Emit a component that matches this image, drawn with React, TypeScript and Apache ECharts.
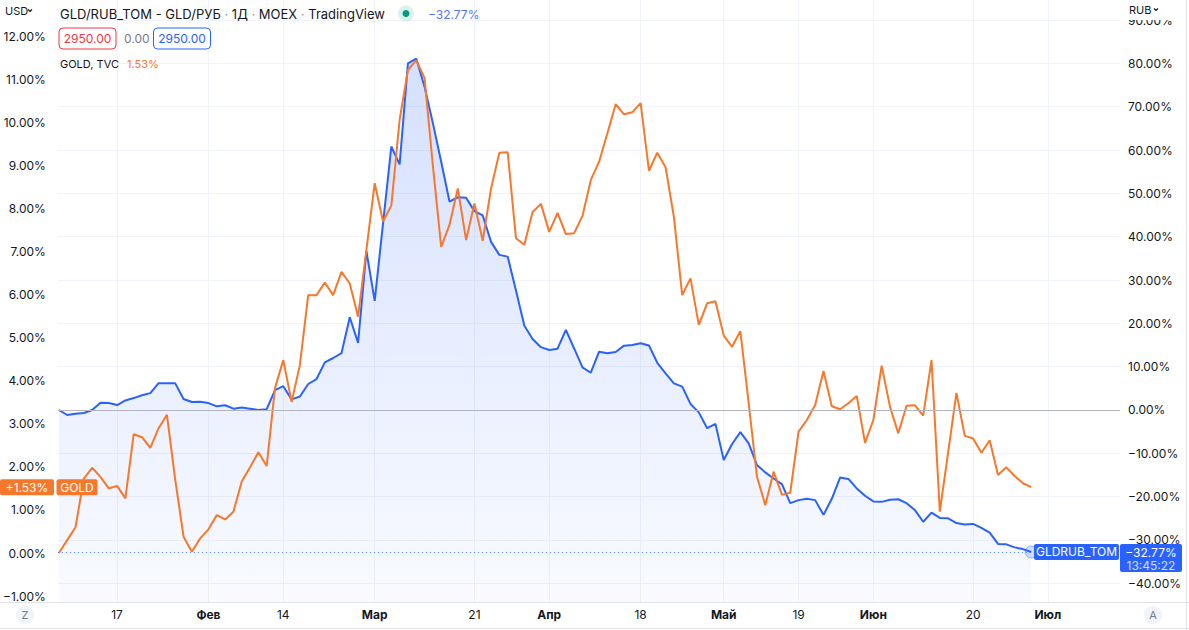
import React, { useEffect, useRef } from "react";
import * as echarts from "echarts";

// ---- data ----
const tickIdx = [7, 18, 27, 38, 50, 59, 70, 80, 89, 98, 110, 119];
const tickLabels = ["17", "Фев", "14", "Мар", "21", "Апр", "18", "Май", "19", "Июн", "20", "Июл"];
const leftTicks = [-1, 0, 1, 2, 3, 4, 5, 6, 7, 8, 9, 10, 11, 12];
const rightTicks = [-40, -30, -20, -10, 0, 10, 20, 30, 40, 50, 60, 70, 80, 90];

// GOLD, TVC (% change, left scale)
const goldPct = [
  0.0, 0.3, 0.6, 1.73, 1.98, 1.77, 1.5, 1.56, 1.27, 2.76,
  2.69, 2.44, 2.9, 3.21, 1.7, 0.38, 0.03, 0.34, 0.55, 0.88,
  0.78, 0.96, 1.66, 1.99, 2.34, 2.02, 3.83, 4.48, 3.51, 4.37,
  5.99, 5.99, 6.28, 5.99, 6.53, 6.26, 5.49, 7.04, 8.59, 7.7,
  8.07, 10.06, 11.22, 11.45, 11.03, 9.0, 7.11, 7.62, 8.47, 7.27,
  8.12, 7.25, 8.47, 9.3, 9.31, 7.31, 7.16, 7.92, 8.11, 7.46,
  7.9, 7.41, 7.43, 7.83, 8.66, 9.09, 9.75, 10.43, 10.19, 10.24,
  10.45, 8.88, 9.3, 8.96, 7.81, 5.99, 6.38, 5.3, 5.8, 5.85,
  5.05, 4.79, 5.15, 3.48, 1.77, 1.11, 1.89, 1.35, 1.4, 2.82,
  3.09, 3.44, 4.23, 3.41, 3.34, 3.48, 3.65, 2.56, 3.09, 4.35,
  3.4, 2.78, 3.42, 3.43, 3.19, 4.48, 0.96, 2.34, 3.72, 2.72,
  2.66, 2.33, 2.62, 1.81, 1.99, 1.79, 1.62, 1.53,
];

// GLD/RUB_TOM (% change, right scale)
const gldrubPct = [
  0.0, -1.15, -0.85, -0.7, 0.0, 1.7, 1.6, 1.15, 2.2, 2.75,
  3.4, 3.9, 6.2, 6.2, 6.15, 2.55, 1.85, 1.9, 1.6, 0.85,
  1.1, 0.3, 0.55, 0.3, 0.0, 0.2, 4.6, 5.5, 2.45, 3.1,
  6.0, 7.15, 11.0, 12.0, 13.1, 21.4, 15.5, 36.7, 25.2, 43.0,
  60.8, 56.7, 80.0, 81.1, 74.6, 66.2, 57.3, 48.1, 49.1, 49.0,
  45.9, 44.9, 38.8, 35.8, 35.4, 27.6, 19.5, 16.4, 14.5, 13.85,
  14.15, 18.5, 14.2, 9.85, 8.6, 13.45, 13.1, 13.4, 14.85, 15.0,
  15.4, 14.9, 10.9, 8.45, 6.15, 5.4, 1.4, -0.55, -4.2, -3.2,
  -11.55, -7.85, -5.1, -7.7, -12.7, -14.4, -15.8, -17.1, -21.5, -20.8,
  -20.5, -20.8, -24.2, -20.5, -15.6, -15.9, -18.1, -19.8, -21.1, -21.2,
  -20.7, -20.6, -21.5, -23.1, -25.8, -23.7, -24.9, -25.0, -26.1, -26.4,
  -26.3, -27.2, -28.3, -30.9, -31.0, -31.7, -32.1, -32.77,
];

const lastPrice = "2950.00";
const priceChange = "0.00";
const lastTime = "13:45:22";

// ---- styles ----
const FONT = 'Inter, "Noto Sans", "DejaVu Sans", sans-serif';
const BLUE = "#2962ff";
const ORANGE = "#f7782b";
const TEXT = "#131722";
const GRID = "#f0f3fa";
const BORDER = "#e0e3eb";

const fmt = (v: number, plus = false) =>
  (v < 0 ? "\u2212" : plus && v > 0 ? "+" : "") + Math.abs(v).toFixed(2) + "%";

export default function App() {
  const ref = useRef<HTMLDivElement>(null);

  useEffect(() => {
    if (!ref.current) return;
    const chart = echarts.init(ref.current, null, { renderer: "svg" });
    const lastI = gldrubPct.length - 1;
    const lastBlue = gldrubPct[lastI];
    const lastGold = goldPct[goldPct.length - 1];

    chart.setOption({
      animation: false,
      backgroundColor: "#ffffff",
      grid: { left: 55, right: 69, top: 0, bottom: 28 },
      xAxis: {
        type: "value",
        min: -0.12,
        max: 127.68,
        axisLine: { show: false, onZero: false },
        axisTick: { show: false, customValues: tickIdx },
        splitLine: { show: true, lineStyle: { color: GRID, width: 1 } },
        axisLabel: {
          customValues: tickIdx,
          margin: 6,
          color: TEXT,
          fontSize: 12,
          fontFamily: FONT,
          formatter: (v: number) => {
            const k = tickIdx.indexOf(Math.round(v));
            const s = k >= 0 ? tickLabels[k] : "";
            return /^\d+$/.test(s) ? s : "{b|" + s + "}";
          },
          rich: { b: { fontWeight: "bold", fontSize: 12, color: TEXT, fontFamily: FONT } },
        },
      },
      yAxis: [
        {
          type: "value",
          position: "left",
          min: -1.138,
          max: 12.846,
          axisLine: { show: false },
          axisTick: { show: false, customValues: leftTicks },
          splitLine: { show: false },
          axisLabel: {
            customValues: leftTicks,
            formatter: (v: number) => fmt(v),
            color: TEXT,
            fontSize: 12,
            fontFamily: FONT,
            margin: 12,
          },
        },
        {
          type: "value",
          position: "right",
          min: -44.31,
          max: 94.62,
          axisLine: { show: false },
          axisTick: { show: false, customValues: rightTicks },
          splitLine: { show: true, lineStyle: { color: GRID, width: 1 } },
          axisLabel: {
            customValues: rightTicks,
            formatter: (v: number) => fmt(v),
            color: TEXT,
            fontSize: 12,
            fontFamily: FONT,
            margin: 8,
          },
        },
      ],
      series: [
        {
          name: "GLDRUB_TOM",
          type: "line",
          xAxisIndex: 0,
          yAxisIndex: 1,
          data: gldrubPct.map((v, i) => [i, v]),
          symbol: "none",
          z: 2,
          lineStyle: { color: BLUE, width: 2 },
          areaStyle: {
            origin: "start",
            color: new echarts.graphic.LinearGradient(0, 0, 0, 1, [
              { offset: 0, color: "rgba(41,98,255,0.28)" },
              { offset: 1, color: "rgba(41,98,255,0.04)" },
            ]),
          },
          markLine: {
            silent: true,
            symbol: ["none", "none"],
            label: { show: false },
            data: [
              { yAxis: 0, lineStyle: { color: "#b2b5be", width: 1, type: "solid" } },
              { yAxis: lastBlue, lineStyle: { color: BLUE, width: 1, type: [1, 3], opacity: 0.8 } },
            ],
          },
          markPoint: {
            silent: true,
            data: [
              {
                coord: [lastI, lastBlue],
                symbol: "circle",
                symbolSize: 12,
                itemStyle: { color: "rgba(41,98,255,0.2)", borderColor: "rgba(41,98,255,0.45)", borderWidth: 1 },
                label: { show: false },
              },
            ],
          },
        },
        {
          name: "GOLD",
          type: "line",
          xAxisIndex: 0,
          yAxisIndex: 0,
          data: goldPct.map((v, i) => [i, v]),
          symbol: "none",
          z: 3,
          lineStyle: { color: ORANGE, width: 2 },
        },
      ],
    });

    const yGold = chart.convertToPixel({ yAxisIndex: 0 }, lastGold) as number;
    const yBlue = chart.convertToPixel({ yAxisIndex: 1 }, lastBlue) as number;

    const txt = (x: number, y: number, text: string, fill: string, size = 12, align = "left", weight = "normal") => ({
      type: "text",
      silent: true,
      style: { x, y, text, fill, fontSize: size, fontFamily: FONT, fontWeight: weight, align, verticalAlign: "middle" },
      z: 100,
    });
    const rect = (x: number, y: number, w: number, h: number, fill: string, r = 2, stroke?: string) => ({
      type: "rect",
      silent: true,
      shape: { x, y, width: w, height: h, r },
      style: stroke ? { fill, stroke, lineWidth: 1 } : { fill },
      z: 99,
    });

    chart.setOption({
      graphic: [
        // frame lines
        { type: "line", silent: true, shape: { x1: 0, y1: 602.5, x2: 1189, y2: 602.5 }, style: { stroke: BORDER, lineWidth: 1 }, z: 50 },
        { type: "line", silent: true, shape: { x1: 0, y1: 628.5, x2: 1189, y2: 628.5 }, style: { stroke: BORDER, lineWidth: 1 }, z: 50 },
        { type: "line", silent: true, shape: { x1: 1186.5, y1: 0, x2: 1186.5, y2: 630 }, style: { stroke: BORDER, lineWidth: 1 }, z: 50 },
        // currency headers
        rect(1121, 0, 65, 20, "#ffffff", 0),
        txt(5, 11, "USD", TEXT, 11),
        { type: "polyline", silent: true, shape: { points: [[28, 9.5], [30, 11.5], [32, 9.5]] }, style: { stroke: TEXT, lineWidth: 1.2, fill: "none" }, z: 100 },
        txt(1129, 10, "RUB", TEXT, 11),
        { type: "polyline", silent: true, shape: { points: [[1154, 8.5], [1156, 10.5], [1158, 8.5]] }, style: { stroke: TEXT, lineWidth: 1.2, fill: "none" }, z: 100 },
        // title
        {
          type: "text",
          silent: true,
          z: 100,
          style: {
            x: 60,
            y: 14,
            verticalAlign: "middle",
            text: "{a|GLD/RUB_TOM - GLD/РУБ}{d| · }{a|1Д}{d| · }{a|MOEX}{d| · }{a|TradingView}",
            rich: {
              a: { fill: TEXT, fontSize: 13, fontFamily: FONT },
              d: { fill: "#9598a1", fontSize: 13, fontFamily: FONT },
            },
          },
        },
        { type: "circle", silent: true, shape: { cx: 406, cy: 13.5, r: 8 }, style: { fill: "rgba(8,153,129,0.14)" }, z: 100 },
        { type: "circle", silent: true, shape: { cx: 406, cy: 13.5, r: 3.5 }, style: { fill: "#089981" }, z: 101 },
        txt(428, 14, fmt(lastBlue), "#5274f6", 12),
        // price boxes
        rect(59, 28, 57, 21, "#ffffff", 4, "#f23645"),
        txt(87.5, 38.5, lastPrice, "#f23645", 12, "center"),
        txt(124, 38.5, priceChange, "#787b86", 12),
        rect(153.5, 28, 57, 21, "#ffffff", 4, BLUE),
        txt(182, 38.5, lastPrice, BLUE, 12, "center"),
        // gold legend
        txt(60, 64, "GOLD, TVC", TEXT, 11),
        txt(127, 64, fmt(lastGold), ORANGE, 11),
        // gold last value labels
        rect(0, yGold - 8, 54, 16, ORANGE, 2),
        txt(27, yGold, fmt(lastGold, true), "#ffffff", 12, "center"),
        rect(56.5, yGold - 8, 41, 16, ORANGE, 2),
        txt(77, yGold, "GOLD", "#ffffff", 12, "center"),
        // blue last value labels
        rect(1034, yBlue - 8, 85, 16, BLUE, 2),
        txt(1076.5, yBlue, "GLDRUB_TOM", "#ffffff", 12, "center"),
        rect(1120, yBlue - 8, 62, 28, BLUE, 2),
        txt(1151, yBlue + 0.5, fmt(lastBlue), "#ffffff", 12, "center"),
        txt(1151, yBlue + 13.5, lastTime, "rgba(255,255,255,0.8)", 12, "center"),
        // bottom buttons
        { type: "circle", silent: true, shape: { cx: 25, cy: 615, r: 9 }, style: { fill: "#f0f3fa" }, z: 100 },
        txt(25, 615, "Z", "#787b86", 11, "center"),
        { type: "circle", silent: true, shape: { cx: 1153, cy: 615, r: 9 }, style: { fill: "#f0f3fa" }, z: 100 },
        txt(1153, 615, "A", "#787b86", 11, "center"),
      ],
    });

    return () => chart.dispose();
  }, []);

  return (
    <div
      ref={ref}
      style={{ position: "fixed", left: 0, top: 0, width: 1189, height: 630, background: "#fff" }}
    />
  );
}
